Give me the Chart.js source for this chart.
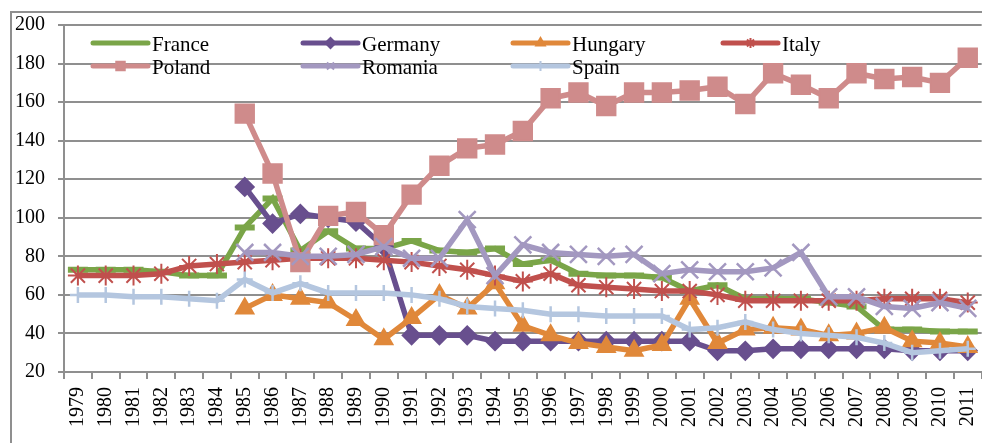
<!DOCTYPE html>
<html><head><meta charset="utf-8">
<script src="https://cdn.jsdelivr.net/npm/chart.js@4/dist/chart.umd.min.js"></script>
<style>
html,body{margin:0;padding:0;background:#fff;overflow:hidden;width:982px;height:443px;}
#wrap{position:absolute;left:0;top:0;width:1000px;height:460px;}
</style></head><body>
<div id="wrap"><canvas id="c" width="1000" height="460"></canvas></div>
<script>
const years = ['1979','1980','1981','1982','1983','1984','1985','1986','1987','1988','1989','1990','1991','1992','1993','1994','1995','1996','1997','1998','1999','2000','2001','2002','2003','2004','2005','2006','2007','2008','2009','2010','2011'];
const yTicks = [20,40,60,80,100,120,140,160,180,200];
const N = null;
const france  = [73,73,73,72,70,70,95,110,83,93,84,84,88,83,82,84,76,78,71,70,70,69,62,65,58,58,58,56,54,42,42,41,41];
const germany = [N,N,N,N,N,N,116,97,102,100,98,85,39,39,39,36,36,36,36,36,36,36,36,31,31,32,32,32,32,32,31,31,31];
const hungary = [N,N,N,N,N,N,53,60,58,56,47,37,48,60,53,66,44,39,35,33,31,34,58,35,42,43,42,39,40,43,36,35,33];
const italy   = [70,70,70,71,75,76,77,78,79,79,79,78,77,75,73,70,67,71,65,64,63,62,62,60,57,57,57,57,57,58,58,58,56];
const poland  = [N,N,N,N,N,N,154,123,77,101,103,91,112,127,136,138,145,162,165,158,165,165,166,168,159,175,169,162,175,172,173,170,183];
const romania = [N,N,N,N,N,N,82,82,80,80,81,85,79,79,99,70,86,82,81,80,81,71,73,72,72,74,82,59,59,54,53,56,53];
const spain   = [60,60,59,59,58,57,68,61,66,61,61,61,60,58,54,53,52,50,50,49,49,49,42,43,46,42,40,39,38,35,30,31,32];

const names = ['France','Germany','Hungary','Italy','Poland','Romania','Spain'];
const series = [france,germany,hungary,italy,poland,romania,spain];
const colors = ['#7AA548','#684F8E','#E0883A','#C0504D','#CF8B8B','#A398C0','#B4C6DF'];
const styles = ['line','rectRot','triangle','star','rect','crossRot','cross'];
const radii  = [10,9,10,10,13,12,8];
const pbw    = [6,2,2,2,2,2.5,2.5];
const legR   = [6,5,5,5,6,5,5];

const datasets = series.map((d,i)=>({
  label: names[i], data: d,
  borderColor: colors[i], backgroundColor: colors[i],
  pointBackgroundColor: colors[i], pointBorderColor: colors[i],
  borderWidth: 5.5, pointStyle: styles[i], pointRadius: radii[i], pointBorderWidth: pbw[i],
  tension: 0, spanGaps: false, order: 7 - i
}));

const framePlugin = {
  id:'frame',
  beforeDraw(chart){
    const ctx = chart.ctx;
    ctx.save();
    ctx.strokeStyle = '#8f8f8f'; ctx.lineWidth = 2;
    ctx.strokeRect(11, 12, chart.width + 20, chart.height + 20);
    ctx.restore();
  }
};

const legendPlugin = {
  id:'customLegend',
  afterDraw(chart){
    const ctx = chart.ctx;
    ctx.save();
    chart.data.datasets.forEach((ds,i)=>{
      const col = i % 4, row = Math.floor(i/4);
      const x0 = 93 + col*210, y = 43 + row*23;
      ctx.strokeStyle = ds.borderColor; ctx.lineWidth = 5; ctx.lineCap = 'round';
      ctx.beginPath(); ctx.moveTo(x0, y); ctx.lineTo(x0+55, y); ctx.stroke();
      ctx.lineCap = 'butt';
      ctx.fillStyle = ds.borderColor; ctx.strokeStyle = ds.borderColor; ctx.lineWidth = 2;
      Chart.helpers.drawPoint(ctx, {pointStyle: ds.pointStyle, rotation:0, radius: legR[i], borderWidth: 2}, x0+27.5, y);
      ctx.fillStyle = '#000';
      ctx.font = '21px "Liberation Serif"';
      ctx.textBaseline = 'alphabetic'; ctx.textAlign = 'left';
      ctx.fillText(ds.label, x0+59, y+8);
    });
    ctx.restore();
  }
};

new Chart(document.getElementById('c'), {
  type:'line',
  data:{labels: years, datasets},
  options:{
    responsive:false, animation:false, devicePixelRatio:1,
    layout:{padding:{left:0, top:24, right:8, bottom:0}},
    plugins:{legend:{display:false}, tooltip:{enabled:false}},
    scales:{
      x:{
        type:'category', offset:true,
        grid:{offset:true, drawOnChartArea:false, drawTicks:true, tickLength:7, color:'#8f8f8f', lineWidth:2},
        border:{display:true, color:'#8f8f8f', width:2},
        ticks:{autoSkip:false, minRotation:90, maxRotation:90, padding:8, color:'#000',
               font:{family:'"Liberation Serif"', size:20}},
        afterFit(s){ s.height = 88; }
      },
      y:{
        min:20, max:200,
        afterBuildTicks(s){ s.ticks = yTicks.map(v=>({value:v})); },
        grid:{color:'#8f8f8f', lineWidth:2, tickLength:6, drawTicks:true},
        border:{display:true, color:'#8f8f8f', width:2},
        ticks:{padding:13, color:'#000', font:{family:'"Liberation Serif"', size:20}},
        afterFit(s){ s.width = 64; }
      }
    }
  },
  plugins:[framePlugin, legendPlugin]
});
</script>
</body></html>
